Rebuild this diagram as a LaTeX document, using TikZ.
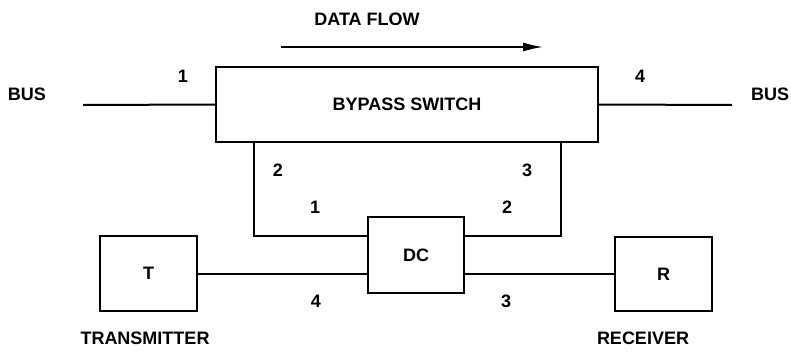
\documentclass[tikz,border=0pt]{standalone}
\usepackage{fontspec}
\setmainfont{Liberation Sans}
\usetikzlibrary{arrows.meta, positioning, calc}

\begin{document}
\begin{tikzpicture}[
  x=0.5pt, y=-0.5pt,
  blk/.style={draw, line width=1pt, inner sep=0pt},
  lbl/.style={font=\bfseries\fontsize{9}{10}\selectfont},
  wire/.style={line width=1pt}
]
  \useasboundingbox (0,0) rectangle (791,353);

  % boxes
  \node[blk, lbl, minimum width=191pt, minimum height=37.5pt] (bypass) at (407,104.5) {BYPASS SWITCH};
  \node[blk, lbl, minimum width=48pt, minimum height=38pt] (dc) at (416,255) {DC};
  \node[blk, lbl, minimum width=48.5pt, minimum height=37.5pt] (tx) at (148.5,273.5) {T};
  \node[blk, lbl, minimum width=48.5pt, minimum height=37pt] (rx) at (663.5,274) {R};

  % bus
  \coordinate (busl) at (83,105);
  \coordinate (busr) at (732,105);
  \draw[wire] (busl) -- (bypass.west);
  \draw[wire] (bypass.east) -- (busr);
  \node[lbl] (bustxtl) at (27,94) {BUS};
  \node[lbl] (bustxtr) at (770,94) {BUS};

  % data flow
  \coordinate (flowa) at (281,47);
  \coordinate (flowb) at (543,47);
  \draw[line width=0.8pt, -{Latex[length=10pt, width=4.5pt]}] (flowa) -- (flowb);
  \node[lbl] (flowtxt) at (367,19) {DATA FLOW};

  % couplers
  \draw[wire] ($(bypass.south west)+(39,0)$) |- ($(dc.north west)!0.25!(dc.south west)$);
  \draw[wire] ($(bypass.south east)+(-38,0)$) |- ($(dc.north east)!0.25!(dc.south east)$);
  \draw[wire] (tx.east) -- (tx.east -| dc.west);
  \draw[wire] (rx.west -| dc.east) -- (rx.west);

  % port numbers
  \foreach \pos/\txt [count=\k] in {{183,76}/1, {640,76}/4, {278,170}/2, {527,170}/3,
                                    {315,207}/1, {507,207}/2, {316,301}/4, {506,301}/3}
    \node[lbl] (port\k) at (\pos) {\txt};

  \node[lbl] (txtxt) at (145,338) {TRANSMITTER};
  \node[lbl] (rxtxt) at (643,338) {RECEIVER};
\end{tikzpicture}
\end{document}
